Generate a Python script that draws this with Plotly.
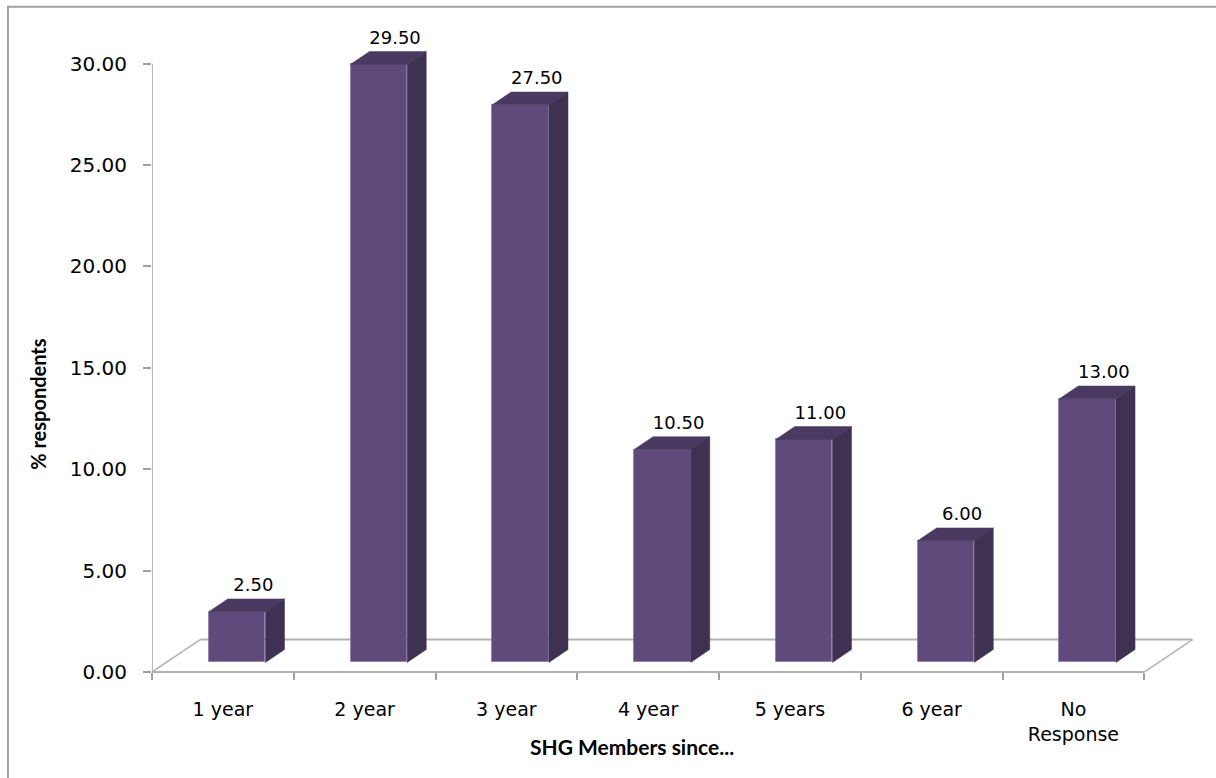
import plotly.graph_objects as go

# ---- data ---------------------------------------------------------------
categories = ["1 year", "2 year", "3 year", "4 year", "5 years", "6 year", "No<br>Response"]
respondents_pct = [2.50, 29.50, 27.50, 10.50, 11.00, 6.00, 13.00]
y_tick_values = [0, 5, 10, 15, 20, 25, 30]
y_tick_labels = [f"{v:.2f}" for v in y_tick_values]
value_labels = [f"{v:.2f}" for v in respondents_pct]

# ---- page / plot-area geometry (pixels) ----------------------------------
W, H = 1216, 778
X_MAX, Y_MAX = 7.4, 32.5
PX_PER_X = 141.71           # pixels per category
PX_PER_Y = 20.267           # pixels per percentage point
PLOT_L, PLOT_B = 152, 672
PLOT_R = PLOT_L + X_MAX * PX_PER_X
PLOT_T = PLOT_B - Y_MAX * PX_PER_Y


def paper_x(px):
    return (px - PLOT_L) / (PLOT_R - PLOT_L)


def paper_y(py):
    return (PLOT_B - py) / (PLOT_B - PLOT_T)


# ---- pseudo-3D scene parameters (axis units) ----------------------------
FLOOR_DX, FLOOR_DY = 0.34, 1.60      # depth of the floor
F_FRONT, F_BACK = 0.295, 0.69        # depth fractions of bar front / back
BAR_W = 0.40
front_dx, front_dy = F_FRONT * FLOOR_DX, F_FRONT * FLOOR_DY
bar_dx, bar_dy = (F_BACK - F_FRONT) * FLOOR_DX, (F_BACK - F_FRONT) * FLOOR_DY

FRONT_C, TOP_C, SIDE_C = "#604A7B", "#4A3A61", "#3E3152"
GRID_C = "#B2B2B2"

n = len(categories)
centers = [i + 0.5 for i in range(n)]
front_x = [c + front_dx for c in centers]

# top and right-side faces of each bar
top_x, top_y, side_x, side_y = [], [], [], []
for fx, v in zip(front_x, respondents_pct):
    x0, x1 = fx - BAR_W / 2, fx + BAR_W / 2
    yt = v + front_dy
    top_x += [x0, x1, x1 + bar_dx, x0 + bar_dx, x0, None]
    top_y += [yt, yt, yt + bar_dy, yt + bar_dy, yt, None]
    side_x += [x1, x1, x1 + bar_dx, x1 + bar_dx, x1, None]
    side_y += [front_dy, yt, yt + bar_dy, front_dy + bar_dy, front_dy, None]

label_x = [fx + bar_dx - 0.02 for fx in front_x]
label_y = [v + front_dy + bar_dy + 0.6 for v in respondents_pct]

fig = go.Figure()

fig.add_trace(go.Bar(
    x=front_x, y=respondents_pct, base=[front_dy] * n, width=BAR_W,
    marker=dict(color=FRONT_C, line=dict(color="rgba(140,120,170,0.7)", width=1)),
    hoverinfo="skip", showlegend=False,
))
fig.add_trace(go.Scatter(
    x=top_x, y=top_y, mode="lines", fill="toself", fillcolor=TOP_C,
    line=dict(width=0.5, color=TOP_C), hoverinfo="skip", showlegend=False,
))
fig.add_trace(go.Scatter(
    x=side_x, y=side_y, mode="lines", fill="toself", fillcolor=SIDE_C,
    line=dict(width=0.5, color=SIDE_C), hoverinfo="skip", showlegend=False,
))
fig.add_trace(go.Scatter(
    x=label_x, y=label_y, mode="text", text=value_labels,
    textposition="middle center",
    textfont=dict(family="DejaVu Sans", size=18, color="black"),
    cliponaxis=False, hoverinfo="skip", showlegend=False,
))

shapes = [
    # floor
    dict(type="line", xref="x", yref="paper", x0=0, x1=n, y0=0, y1=0,
         line=dict(color=GRID_C, width=2), layer="below"),
    dict(type="line", xref="x", yref="y", x0=0, x1=FLOOR_DX, y0=0, y1=FLOOR_DY,
         line=dict(color=GRID_C, width=1.5), layer="below"),
    dict(type="line", xref="x", yref="y", x0=FLOOR_DX, x1=n + FLOOR_DX,
         y0=FLOOR_DY, y1=FLOOR_DY, line=dict(color=GRID_C, width=2), layer="below"),
    dict(type="line", xref="x", yref="y", x0=n, x1=n + FLOOR_DX, y0=0, y1=FLOOR_DY,
         line=dict(color=GRID_C, width=1.5), layer="below"),
    # value axis line
    dict(type="line", xref="x", yref="y", x0=0, x1=0, y0=0, y1=max(y_tick_values),
         line=dict(color="#A0A0A0", width=1.5), layer="below"),
    # chart border
    dict(type="rect", xref="paper", yref="paper",
         x0=paper_x(8), x1=paper_x(W + 10), y0=paper_y(7), y1=paper_y(H + 10),
         line=dict(color="#A0A0A0", width=2), fillcolor="rgba(0,0,0,0)", layer="below"),
]

annotations = [
    dict(text="<b>% respondents</b>", xref="paper", yref="paper",
         x=paper_x(38), y=paper_y(404), textangle=-90, showarrow=False,
         xanchor="center", yanchor="middle",
         font=dict(family="Lato", size=20, color="black")),
    dict(text="<b>SHG Members since...</b>", xref="paper", yref="paper",
         x=paper_x(632), y=paper_y(746), showarrow=False,
         xanchor="center", yanchor="middle",
         font=dict(family="Lato", size=21, color="black")),
]

fig.update_layout(
    width=W, height=H, autosize=False,
    margin=dict(l=PLOT_L, r=W - PLOT_R, t=PLOT_T, b=H - PLOT_B, pad=0),
    paper_bgcolor="white", plot_bgcolor="white",
    shapes=shapes, annotations=annotations, bargap=0,
    xaxis=dict(
        range=[0, X_MAX], tickmode="array", tickvals=centers, ticktext=categories,
        ticks="", showgrid=False, zeroline=False, showline=False,
        tickfont=dict(family="DejaVu Sans", size=19, color="black"),
        ticklabelstandoff=24,
        minor=dict(tickmode="array", tickvals=list(range(n + 1)), ticks="outside",
                   ticklen=7, tickwidth=1.5, tickcolor="#A0A0A0", showgrid=False),
    ),
    yaxis=dict(
        range=[0, Y_MAX], tickmode="array", tickvals=y_tick_values, ticktext=y_tick_labels,
        ticks="outside", ticklen=8, tickwidth=1.5, tickcolor="#A0A0A0",
        showgrid=False, zeroline=False, showline=False,
        tickfont=dict(family="DejaVu Sans", size=20, color="black"),
        ticklabelstandoff=12,
    ),
)

fig.write_html("out.html")
